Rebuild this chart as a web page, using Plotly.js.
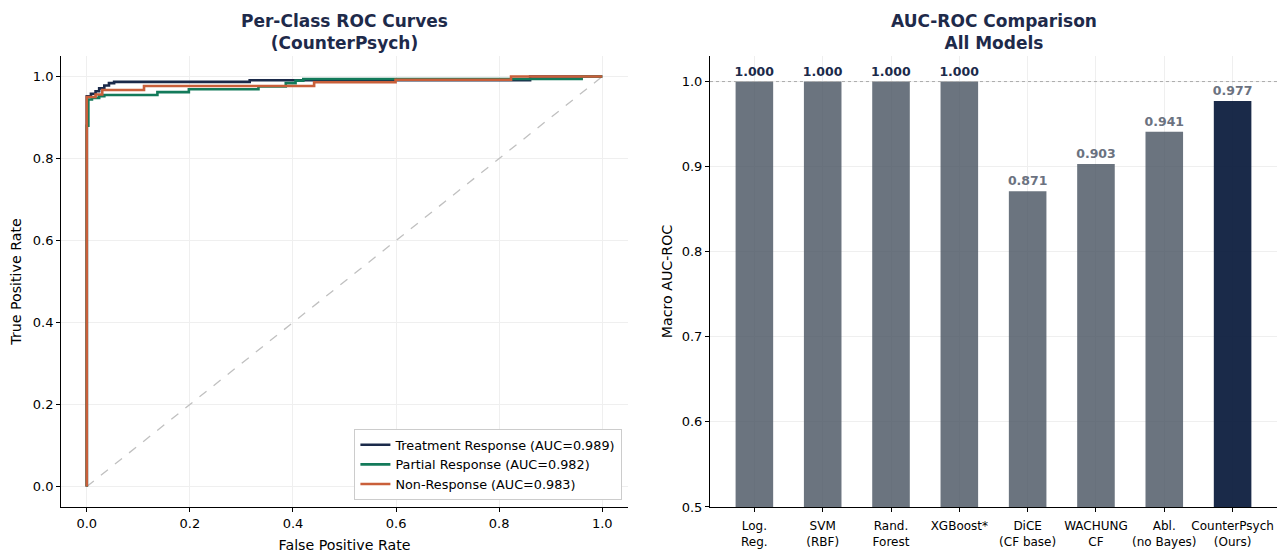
<!DOCTYPE html>
<html>
<head>
<meta charset="utf-8">
<script src="https://cdn.plot.ly/plotly-3.0.1.min.js"></script>
<style>html,body{margin:0;padding:0;background:#fff;}#chart{width:1282px;height:553px;}</style>
</head>
<body>
<div id="chart"></div>
<script>
// ROC curve corner points (step curves)
const treatFpr = [0, 0, 0.008, 0.017, 0.024, 0.034, 0.043, 0.053, 0.316, 0.86, 1.0];
const treatTpr = [0, 0.952, 0.958, 0.964, 0.971, 0.978, 0.984, 0.987, 0.991, 1.0, 1.0];
const partialFpr = [0, 0, 0.003, 0.010, 0.024, 0.034, 0.137, 0.198, 0.333, 0.386, 0.405, 0.42, 0.96, 1.0];
const partialTpr = [0, 0.88, 0.944, 0.948, 0.952, 0.955, 0.962, 0.969, 0.976, 0.984, 0.990, 0.994, 1.0, 1.0];
const nonFpr = [0, 0, 0.017, 0.030, 0.111, 0.441, 0.599, 0.823, 1.0];
const nonTpr = [0, 0.950, 0.956, 0.967, 0.977, 0.986, 0.992, 1.0, 1.0];
const rocNames = ["Treatment Response (AUC=0.989)", "Partial Response (AUC=0.982)", "Non-Response (AUC=0.983)"];

// Bar chart
const models = ["Log.<br>Reg.", "SVM<br>(RBF)", "Rand.<br>Forest", "XGBoost*", "DiCE<br>(CF base)", "WACHUNG<br>CF", "Abl.<br>(no Bayes)", "CounterPsych<br>(Ours)"];
const aucValues = [1.000, 1.000, 1.000, 1.000, 0.871, 0.903, 0.941, 0.977];

const navy = '#1b2a4a', green = '#137a5a', orange = '#c95f3a';
const font = 'DejaVu Sans, sans-serif';

const traces = [
  {x: [0, 1], y: [0, 1], xaxis: 'x', yaxis: 'y', mode: 'lines', line: {color: '#c0c0c0', width: 1.3, dash: 'dash'}, showlegend: false, hoverinfo: 'skip'},
  {x: treatFpr, y: treatTpr, xaxis: 'x', yaxis: 'y', mode: 'lines', name: rocNames[0], line: {color: navy, width: 2.6, shape: 'hv'}},
  {x: partialFpr, y: partialTpr, xaxis: 'x', yaxis: 'y', mode: 'lines', name: rocNames[1], line: {color: green, width: 2.6, shape: 'hv'}},
  {x: nonFpr, y: nonTpr, xaxis: 'x', yaxis: 'y', mode: 'lines', name: rocNames[2], line: {color: orange, width: 2.6, shape: 'hv'}},
  {
    type: 'bar', x: models, y: aucValues, xaxis: 'x2', yaxis: 'y2', showlegend: false, width: 0.55,
    marker: {color: aucValues.map((v, i) => i === models.length - 1 ? 'rgba(7,24,58,0.92)' : 'rgba(75,85,99,0.82)')},
    text: aucValues.map(v => '<b>' + v.toFixed(3) + '</b>'),
    textposition: 'outside', cliponaxis: false, constraintext: 'none',
    textfont: {family: font, size: 12.5, color: aucValues.map(v => v >= 0.9995 ? navy : '#6b7280')}
  }
];

const axisCommon = {
  showline: true, linecolor: '#000', linewidth: 1, ticks: 'outside', ticklen: 4, tickcolor: '#000',
  gridcolor: '#efefef', gridwidth: 1, zeroline: false, mirror: false, tickangle: 0,
  tickfont: {family: font, size: 13, color: '#000'}
};

const layout = {
  width: 1282, height: 553,
  margin: {l: 0, r: 0, t: 0, b: 0},
  paper_bgcolor: '#fff', plot_bgcolor: '#fff',
  font: {family: font, color: '#000'},
  xaxis: Object.assign({}, axisCommon, {domain: [0.0476, 0.4899], range: [-0.05, 1.05], tickvals: [0, 0.2, 0.4, 0.6, 0.8, 1.0], tickformat: '.1f',
    title: {text: 'False Positive Rate', font: {family: font, size: 14.2, color: '#000'}, standoff: 10}}),
  yaxis: Object.assign({}, axisCommon, {domain: [0.0832, 0.8987], range: [-0.05, 1.05], tickvals: [0, 0.2, 0.4, 0.6, 0.8, 1.0], tickformat: '.1f',
    title: {text: 'True Positive Rate', font: {family: font, size: 14.2, color: '#000'}, standoff: 7}}),
  xaxis2: Object.assign({}, axisCommon, {domain: [0.5538, 0.9961], range: [-0.65, 7.65], anchor: 'y2', type: 'category',
    ticklabelstandoff: 4, tickfont: {family: font, size: 12, color: '#000'}}),
  yaxis2: Object.assign({}, axisCommon, {domain: [0.0832, 0.8987], range: [0.5, 1.03], anchor: 'x2',
    tickvals: [0.5, 0.6, 0.7, 0.8, 0.9, 1.0], tickformat: '.1f',
    title: {text: 'Macro AUC-ROC', font: {family: font, size: 14.2, color: '#000'}, standoff: 5}}),
  legend: {x: 0.4855, xanchor: 'right', y: 0.096, yanchor: 'bottom', bgcolor: '#fff', bordercolor: '#cccccc', borderwidth: 1,
    font: {family: font, size: 12.8, color: '#000'}},
  shapes: [
    {type: 'line', xref: 'paper', x0: 0.5538, x1: 0.9961, yref: 'y2', y0: 1.0, y1: 1.0, line: {color: '#aaaaaa', width: 1, dash: 'dot'}}
  ],
  annotations: [
    {text: '<b>Per-Class ROC Curves<br>(CounterPsych)</b>', xref: 'paper', yref: 'paper', x: 0.2687, y: 0.942, xanchor: 'center', yanchor: 'middle', showarrow: false,
      font: {family: font, size: 17, color: '#1e2a4a'}},
    {text: '<b>AUC-ROC Comparison<br>All Models</b>', xref: 'paper', yref: 'paper', x: 0.775, y: 0.942, xanchor: 'center', yanchor: 'middle', showarrow: false,
      font: {family: font, size: 17, color: '#1e2a4a'}}
  ]
};

Plotly.newPlot('chart', traces, layout, {displayModeBar: false, staticPlot: true});
</script>
</body>
</html>
